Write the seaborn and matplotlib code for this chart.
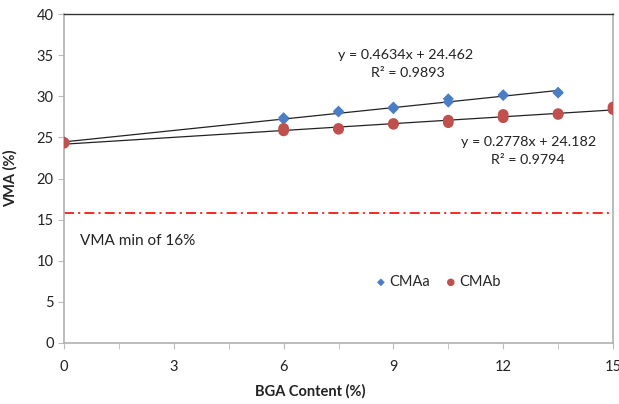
import numpy as np
import pandas as pd
import matplotlib
matplotlib.use("Agg")
import matplotlib.pyplot as plt
import seaborn as sns

# ---- data ----
bga_a = [0, 0, 6, 6, 7.5, 7.5, 9, 9, 10.5, 10.5, 12, 12, 13.5, 13.5]
vma_a = [24.4, 24.5, 27.2, 27.4, 28.1, 28.2, 28.5, 28.7, 29.3, 29.7, 30.1, 30.2, 30.4, 30.5]
bga_b = [0, 0, 6, 6, 7.5, 7.5, 9, 9, 10.5, 10.5, 12, 12, 13.5, 13.5, 15, 15]
vma_b = [24.3, 24.4, 25.8, 26.1, 26.0, 26.1, 26.6, 26.7, 26.8, 27.1, 27.4, 27.8, 27.8, 27.9, 28.4, 28.7]
series_names = ["CMAa", "CMAb"]
trend_slope = [0.4634, 0.2778]
trend_intercept = [24.462, 24.182]
trend_r2 = [0.9893, 0.9794]
vma_min = 15.8
vma_min_label = "VMA min of 16%"
x_ticks = [0, 3, 6, 9, 12, 15]
y_ticks = [0, 5, 10, 15, 20, 25, 30, 35, 40]

sns.set_style("white")
plt.rcParams["font.family"] = ["Lato", "DejaVu Sans"]

fig = plt.figure(figsize=(6.19, 4.04), dpi=100)
ax = fig.add_axes([0.1034, 0.151, 0.8869, 0.814])

df = pd.concat([
    pd.DataFrame({"BGA": bga_a, "VMA": vma_a, "Mix": series_names[0]}),
    pd.DataFrame({"BGA": bga_b, "VMA": vma_b, "Mix": series_names[1]}),
])

colors = {"CMAa": "#4A7EC4", "CMAb": "#C0504D"}

# trend lines
for name, xs, m, b in zip(series_names, [bga_a, bga_b], trend_slope, trend_intercept):
    xr = np.array([min(xs), max(xs)])
    sns.lineplot(x=xr, y=m * xr + b, ax=ax, color="#222222", lw=0.9, legend=False)

sns.scatterplot(data=df[df.Mix == "CMAa"], x="BGA", y="VMA", ax=ax, marker="D",
                s=32, color=colors["CMAa"], edgecolor="none", label="CMAa", zorder=3)
sns.scatterplot(data=df[df.Mix == "CMAb"], x="BGA", y="VMA", ax=ax, marker="o",
                s=60, color=colors["CMAb"], edgecolor="none", label="CMAb", zorder=3)

ax.axhline(vma_min, color="#FF0000", lw=1.2, dashes=(6, 2.5, 1.2, 2.5))
ax.text(0.45, 12.4, vma_min_label, fontsize=11, color="#222222", va="center")

# equations
eq_pos = [((9.34, 35.0), (9.4, 32.8)), ((12.68, 24.44), (12.68, 22.25))]
for m, b, r2, (p1, p2) in zip(trend_slope, trend_intercept, trend_r2, eq_pos):
    ax.text(p1[0], p1[1], f"y = {m}x + {b}", ha="center", va="center",
            fontsize=10.3, color="#222222")
    ax.text(p2[0], p2[1], f"R\u00b2 = {r2}", ha="center", va="center",
            fontsize=10.3, color="#222222")

ax.set_xlim(0, 15)
ax.set_ylim(0, 40)
ax.set_xticks(x_ticks)
ax.set_xticks(np.arange(0, 15.01, 1.5), minor=True)
ax.set_yticks(y_ticks)
ax.tick_params(axis="both", which="both", direction="out", length=4, color="#BBBBBB",
               labelsize=10.5, labelcolor="#222222", bottom=True, left=True)
ax.tick_params(axis="x", pad=8)
for side in ["left", "bottom", "right"]:
    ax.spines[side].set_color("#B0B0B0")
    ax.spines[side].set_linewidth(1.2)
ax.spines["top"].set_color("#333333")
ax.spines["top"].set_linewidth(1.0)

ax.set_xlabel("BGA Content (%)", fontsize=10.5, fontweight="bold", labelpad=5, color="#222222")
ax.xaxis.set_label_coords(0.448, -0.125)
ax.set_ylabel("VMA (%)", fontsize=10.5, fontweight="bold", labelpad=10, color="#222222")
ax.yaxis.set_label_coords(-0.085, 0.5)

ax.legend(loc="center", bbox_to_anchor=(0.68, 0.185), ncol=2, frameon=False,
          fontsize=10.5, handletextpad=0.1, columnspacing=0.9, handlelength=1.0,
          markerscale=0.7)

fig.savefig("out.png", dpi=100)
